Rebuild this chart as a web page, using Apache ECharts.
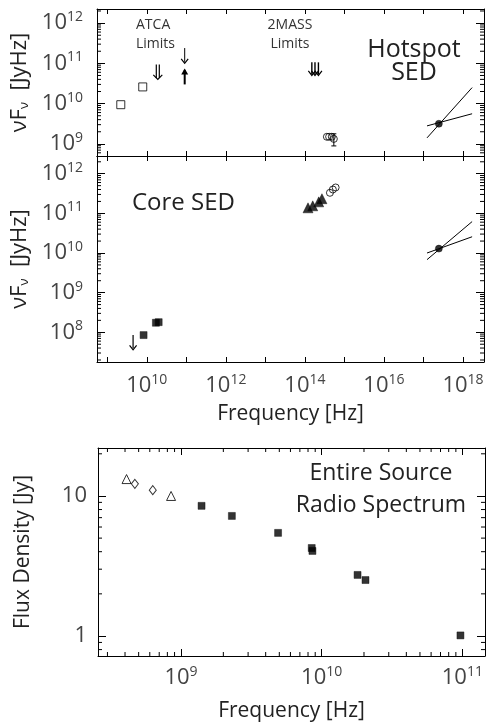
<!DOCTYPE html>
<html>
<head>
<meta charset="utf-8">
<script src="https://cdn.jsdelivr.net/npm/echarts@6/dist/echarts.min.js"></script>
<style>
html, body { margin: 0; padding: 0; background: #fff; }
#main { width: 488px; height: 724px; }
</style>
</head>
<body>
<div id="main"></div>
<script>
// tick labels (exponents shown on the axes)
var sedXLabels = [10, 12, 14, 16, 18]
var sedYLabels = [8, 9, 10, 11, 12]
var radioXLabels = [9, 10, 11]
var radioYLabels = [1, 10]
var minorSteps = [2, 3, 4, 5, 6, 7, 8, 9]

// axis ranges
var sedX = [5.5e8, 3.4e18]
var hsY = [5.0e8, 2.24e12]
var coreY = [1.78e7, 2.8e12]
var radioX = [2.57e8, 1.45e11]
var radioY = [0.72, 22]

// Hotspot SED
var hsSquares = [[2.2e9, 9.4e9], [7.9e9, 2.6e10]]
var hsATCA = [[1.9e10, 9.4e10, 4.0e10]]            // x, tail, tip
var hsThinLimit = [[9.1e10, 2.4e11, 1.0e11]]
var hsLowerLimit = [[9.1e10, 3.0e10, 7.5e10]]
var hs2MASS = [[1.5e14, 1.06e11, 5.0e10], [1.8e14, 1.06e11, 5.0e10], [2.2e14, 1.06e11, 5.0e10]]
var hsOptical = [[3.6e14, 1.5e9], [4.1e14, 1.5e9], [4.8e14, 1.5e9], [5.4e14, 1.33e9]]
var hsOptErr = [[5.4e14, 8.9e8, 1.78e9]]
var hsXray = [[2.45e17, 3.16e9]]
var hsBowSteep = [[1.23e17, 1.41e9], [1.7e18, 2.5e10]]
var hsBowFlat = [[1.23e17, 2.8e9], [1.7e18, 5.6e9]]

// Core SED
var coreRadio = [[8.3e9, 8.5e7], [1.7e10, 1.74e8], [2.0e10, 1.8e8]]
var coreLimit = [[4.5e9, 8.5e7, 3.6e7]]
var coreIR = [[1.2e14, 1.38e11], [1.58e14, 1.55e11], [2.24e14, 1.95e11], [2.7e14, 2.34e11]]
var coreOpt = [[4.3e14, 3.3e11], [5.1e14, 4.0e11], [6.0e14, 4.5e11]]
var coreXray = [[2.45e17, 1.29e10]]
var coreBowSteep = [[1.23e17, 6.8e9], [1.7e18, 6.2e10]]
var coreBowFlat = [[1.23e17, 1.0e10], [1.7e18, 2.57e10]]

// Entire source radio spectrum
var radioTri = [[4.1e8, 13.2], [8.5e8, 10.0]]
var radioDiamond = [[4.7e8, 12.2], [6.3e8, 11.0]]
var radioSquares = [[1.4e9, 8.5], [2.3e9, 7.2], [4.9e9, 5.45], [8.5e9, 4.25], [8.6e9, 4.05],
  [1.8e10, 2.73], [2.05e10, 2.51], [9.7e10, 1.01]]

var FONT = 'Open Sans'
var labelRich = {
  b: { fontFamily: FONT, fontSize: 22, color: '#444' },
  s: { fontFamily: FONT, fontSize: 14, color: '#444', padding: [0, 0, 12, 0] }
}

function powLabel (list) {
  return function (v) {
    var l = Math.log10(v), e = Math.round(l)
    if (Math.abs(l - e) > 1e-6 || list.indexOf(e) < 0) return ''
    return '{b|10}{s|' + e + '}'
  }
}
function plainLabel (list) {
  return function (v) {
    var l = Math.log10(v), e = Math.round(l)
    if (Math.abs(l - e) > 1e-6 || list.indexOf(Math.pow(10, e)) < 0) return ''
    return '{b|' + Math.pow(10, e) + '}'
  }
}

function minorValues (range) {
  var out = []
  var lo = Math.floor(Math.log10(range[0])), hi = Math.ceil(Math.log10(range[1]))
  for (var d = lo; d <= hi; d++) {
    minorSteps.forEach(function (m) {
      var v = m * Math.pow(10, d)
      if (v > range[0] && v < range[1]) out.push(v)
    })
  }
  return out
}

function axis (gi, pos, range, tickLen, label) {
  var a = {
    type: 'log', logBase: 10, gridIndex: gi, position: pos,
    min: range[0], max: range[1], splitNumber: 10,
    axisLine: { show: true, onZero: false, lineStyle: { color: '#000', width: 1 } },
    axisTick: { show: true, inside: true, length: tickLen, lineStyle: { color: '#000', width: 1 } },
    axisLabel: { show: false },
    splitLine: { show: false }
  }
  if (label) {
    a.axisLabel = { show: true, formatter: label.formatter, margin: label.margin, rich: labelRich,
      fontFamily: FONT, fontSize: 22, color: '#444', showMinLabel: true, showMaxLabel: true }
  }
  return a
}

var sedName = {
  fontFamily: FONT, fontSize: 22, color: '#222',
  rich: { s: { fontFamily: FONT, fontSize: 13, color: '#222', padding: [10, 0, 0, 0] } }
}
var plainName = { fontFamily: FONT, fontSize: 21, color: '#222' }

var xAxes = [
  axis(0, 'bottom', sedX, 5),
  axis(0, 'top', sedX, 5),
  axis(1, 'bottom', sedX, 5, { formatter: powLabel(sedXLabels), margin: 11 }),
  axis(1, 'top', sedX, 5),
  axis(2, 'bottom', radioX, 7, { formatter: powLabel(radioXLabels), margin: 9 }),
  axis(2, 'top', radioX, 7)
]
xAxes[2].name = 'Frequency [Hz]'
xAxes[2].nameLocation = 'middle'
xAxes[2].nameGap = 42
xAxes[2].nameTextStyle = plainName
xAxes[4].name = 'Frequency [Hz]'
xAxes[4].nameLocation = 'middle'
xAxes[4].nameGap = 45
xAxes[4].nameTextStyle = plainName

var yAxes = [
  axis(0, 'left', hsY, 8, { formatter: powLabel(sedYLabels), margin: 14 }),
  axis(0, 'right', hsY, 8),
  axis(1, 'left', coreY, 8, { formatter: powLabel(sedYLabels), margin: 14 }),
  axis(1, 'right', coreY, 8),
  axis(2, 'left', radioY, 8, { formatter: plainLabel(radioYLabels), margin: 11 }),
  axis(2, 'right', radioY, 8)
]
yAxes[0].name = 'νF{s|ν}  [JyHz]'
yAxes[2].name = 'νF{s|ν}  [JyHz]'
;[0, 2].forEach(function (i) {
  yAxes[i].nameLocation = 'middle'
  yAxes[i].nameGap = 53
  yAxes[i].nameTextStyle = sedName
})
yAxes[4].name = 'Flux Density [Jy]'
yAxes[4].nameLocation = 'middle'
yAxes[4].nameGap = 64
yAxes[4].nameTextStyle = plainName

function yMinorTicks (xi, yi, xr, yr) {
  return {
    type: 'custom', xAxisIndex: xi, yAxisIndex: yi, silent: true,
    encode: { x: 0, y: 1 },
    data: minorValues(yr).map(function (v) { return [xr[0], v] }),
    renderItem: function (params, api) {
      var a = api.coord([xr[0], api.value(1)]), b = api.coord([xr[1], api.value(1)])
      return { type: 'group', children: [
        { type: 'line', shape: { x1: a[0], y1: a[1], x2: a[0] + 4, y2: a[1] }, style: { stroke: '#000', lineWidth: 1 } },
        { type: 'line', shape: { x1: b[0], y1: b[1], x2: b[0] - 4, y2: b[1] }, style: { stroke: '#000', lineWidth: 1 } }
      ] }
    }
  }
}
function xMinorTicks (xi, yi, xr, yr) {
  return {
    type: 'custom', xAxisIndex: xi, yAxisIndex: yi, silent: true,
    encode: { x: 0, y: 1 },
    data: minorValues(xr).map(function (v) { return [v, yr[0]] }),
    renderItem: function (params, api) {
      var a = api.coord([api.value(0), yr[0]]), b = api.coord([api.value(0), yr[1]])
      return { type: 'group', children: [
        { type: 'line', shape: { x1: a[0], y1: a[1], x2: a[0], y2: a[1] - 4 }, style: { stroke: '#000', lineWidth: 1 } },
        { type: 'line', shape: { x1: b[0], y1: b[1], x2: b[0], y2: b[1] + 4 }, style: { stroke: '#000', lineWidth: 1 } }
      ] }
    }
  }
}

function arrows (xi, yi, data, opt) {
  return {
    type: 'custom', xAxisIndex: xi, yAxisIndex: yi, silent: true,
    encode: { x: 0, y: [1, 2] },
    data: data,
    renderItem: function (params, api) {
      var t = api.coord([api.value(0), api.value(1)])
      var p = api.coord([api.value(0), api.value(2)])
      var d = p[1] > t[1] ? 1 : -1
      var kids = []
      var offs = opt.twin ? [-1.5, 1.5] : [0]
      offs.forEach(function (o) {
        kids.push({ type: 'line', shape: { x1: t[0] + o, y1: t[1], x2: p[0] + o, y2: p[1] - d * 1.5 },
          style: { stroke: '#000', lineWidth: opt.width } })
      })
      var hw = opt.twin ? 4.5 : 3.5
      if (opt.fillHead) {
        kids.push({ type: 'polygon', shape: { points: [[p[0] - hw, p[1] - d * 6], [p[0], p[1]], [p[0] + hw, p[1] - d * 6]] },
          style: { fill: '#000' } })
      } else {
        kids.push({ type: 'polyline', shape: { points: [[p[0] - hw, p[1] - d * 4.5], [p[0], p[1]], [p[0] + hw, p[1] - d * 4.5]] },
          style: { stroke: '#000', lineWidth: 1.2, fill: null } })
      }
      return { type: 'group', children: kids }
    }
  }
}

function errBars (xi, yi, data) {
  return {
    type: 'custom', xAxisIndex: xi, yAxisIndex: yi, silent: true,
    encode: { x: 0, y: [1, 2] },
    data: data,
    renderItem: function (params, api) {
      var lo = api.coord([api.value(0), api.value(1)])
      var hi = api.coord([api.value(0), api.value(2)])
      var s = { stroke: '#000', lineWidth: 1 }
      return { type: 'group', children: [
        { type: 'line', shape: { x1: lo[0], y1: lo[1], x2: hi[0], y2: hi[1] }, style: s },
        { type: 'line', shape: { x1: lo[0] - 2.5, y1: lo[1], x2: lo[0] + 2.5, y2: lo[1] }, style: s },
        { type: 'line', shape: { x1: hi[0] - 2.5, y1: hi[1], x2: hi[0] + 2.5, y2: hi[1] }, style: s }
      ] }
    }
  }
}

function pts (xi, yi, data, symbol, size, filled) {
  return {
    type: 'scatter', xAxisIndex: xi, yAxisIndex: yi, data: data, symbol: symbol, symbolSize: size,
    silent: true,
    itemStyle: filled ? { color: '#000', borderColor: '#000', borderWidth: 0.5 }
      : { color: 'rgba(0,0,0,0)', borderColor: '#000', borderWidth: 1 }
  }
}
function seg (xi, yi, data) {
  return {
    type: 'line', xAxisIndex: xi, yAxisIndex: yi, data: data, symbol: 'none', silent: true,
    lineStyle: { color: '#000', width: 1 }
  }
}

var myChart = echarts.init(document.getElementById('main'))
var option = {
  animation: false,
  backgroundColor: '#fff',
  grid: [
    { left: 97, right: 4, top: 9, height: 147 },
    { left: 97, right: 4, top: 156, height: 206 },
    { left: 98, right: 3, top: 448, height: 208 }
  ],
  xAxis: xAxes,
  yAxis: yAxes,
  series: [
    yMinorTicks(0, 0, sedX, hsY),
    yMinorTicks(2, 2, sedX, coreY),
    yMinorTicks(4, 4, radioX, radioY),
    xMinorTicks(4, 4, radioX, radioY),

    pts(0, 0, hsSquares, 'rect', 8, false),
    arrows(0, 0, hsATCA, { twin: true, width: 1.2 }),
    arrows(0, 0, hsThinLimit, { width: 1 }),
    arrows(0, 0, hsLowerLimit, { width: 2, fillHead: true }),
    arrows(0, 0, hs2MASS, { width: 1.4 }),
    pts(0, 0, hsOptical, 'circle', 7, false),
    errBars(0, 0, hsOptErr),
    seg(0, 0, hsBowSteep),
    seg(0, 0, hsBowFlat),
    pts(0, 0, hsXray, 'circle', 7, true),

    pts(2, 2, coreRadio, 'rect', 7, true),
    arrows(2, 2, coreLimit, { width: 1.2 }),
    pts(2, 2, coreIR, 'triangle', 10, true),
    pts(2, 2, coreOpt, 'circle', 7, false),
    seg(2, 2, coreBowSteep),
    seg(2, 2, coreBowFlat),
    pts(2, 2, coreXray, 'circle', 7, true),

    pts(4, 4, radioTri, 'triangle', 9, false),
    pts(4, 4, radioDiamond, 'diamond', [7, 9], false),
    pts(4, 4, radioSquares, 'rect', 7, true)
  ],
  graphic: [
    { type: 'text', x: 414, y: 61, silent: true,
      style: { text: 'Hotspot\nSED', fontFamily: FONT, fontSize: 25, lineHeight: 23, fill: '#222', align: 'center', verticalAlign: 'middle' } },
    { type: 'text', x: 132, y: 203, silent: true,
      style: { text: 'Core SED', fontFamily: FONT, fontSize: 24, fill: '#222', align: 'left', verticalAlign: 'middle' } },
    { type: 'text', x: 381, y: 489, silent: true,
      style: { text: 'Entire Source\nRadio Spectrum', fontFamily: FONT, fontSize: 23, lineHeight: 32, fill: '#222', align: 'center', verticalAlign: 'middle' } },
    { type: 'text', x: 136, y: 35, silent: true,
      style: { text: 'ATCA\nLimits', fontFamily: FONT, fontSize: 14, lineHeight: 19, fill: '#333', align: 'left', verticalAlign: 'middle' } },
    { type: 'text', x: 290, y: 35, silent: true,
      style: { text: '2MASS\nLimits', fontFamily: FONT, fontSize: 14, lineHeight: 19, fill: '#333', align: 'center', verticalAlign: 'middle' } }
  ]
}
myChart.setOption(option)
</script>
</body>
</html>
